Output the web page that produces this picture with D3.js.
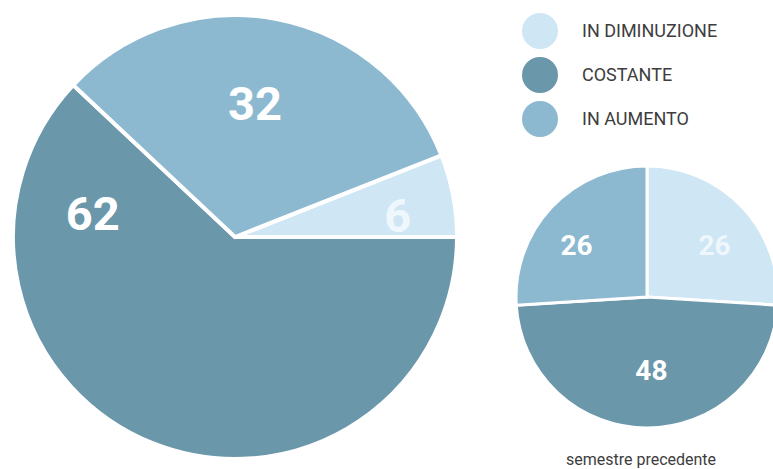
<!DOCTYPE html>
<html>
<head>
<meta charset="utf-8">
<script src="https://cdn.jsdelivr.net/npm/d3@7"></script>
<style>
  body { margin: 0; background: #fff; }
  svg { display: block; }
</style>
</head>
<body>
<div id="chart"></div>
<script>
(function() {
    'use strict';

    const width = 773,
        height = 469;

    // categories and values
    const categories = ['IN DIMINUZIONE', 'COSTANTE', 'IN AUMENTO'];
    const currentValues = [6, 62, 32];
    const previousValues = [26, 48, 26];
    const previousLabel = 'semestre precedente';

    const color = d3.scaleOrdinal()
        .domain(categories)
        .range(['#cfe6f4', '#6b97ab', '#8cb9d0']);

    const labelColor = d3.scaleOrdinal()
        .domain(categories)
        .range(['#eef7fc', '#ffffff', '#ffffff']);

    const svg = d3.select('#chart').append('svg')
        .attr('width', width)
        .attr('height', height);

    // where the number sits inside its slice: t = share of the slice's sweep, k = share of radius
    function drawPie(values, cx, cy, r, startAngle, strokeWidth, fontSize, place) {
        const rows = categories.map((c, i) => ({name: c, value: values[i]}));

        const pie = d3.pie()
            .sort(null)
            .value((d) => d.value)
            .startAngle(startAngle)
            .endAngle(startAngle + 2 * Math.PI);

        const arc = d3.arc()
            .innerRadius(0)
            .outerRadius(r);

        const g = svg.append('g')
            .attr('transform', 'translate(' + cx + ',' + cy + ')');

        const slices = pie(rows);

        g.selectAll('path')
            .data(slices)
            .enter().append('path')
            .attr('d', arc)
            .style('fill', (d) => color(d.data.name))
            .style('stroke', '#fff')
            .style('stroke-width', strokeWidth)
            .style('stroke-linejoin', 'miter');

        g.selectAll('text')
            .data(slices)
            .enter().append('text')
            .attr('transform', (d, i) => {
                const a = d.startAngle + (d.endAngle - d.startAngle) * place[i].t;
                const rr = r * place[i].k;
                return 'translate(' + (Math.sin(a) * rr) + ',' + (-Math.cos(a) * rr) + ')';
            })
            .attr('dy', '.36em')
            .style('text-anchor', 'middle')
            .style('font-family', 'Roboto, "DejaVu Sans", sans-serif')
            .style('font-weight', 'bold')
            .style('font-size', fontSize + 'px')
            .style('fill', (d) => labelColor(d.data.name))
            .text((d) => d.data.value);
    }

    // big pie: the first slice ends at 3 o'clock
    const bigStart = Math.PI / 2 - currentValues[0] / d3.sum(currentValues) * 2 * Math.PI;
    drawPie(currentValues, 235, 237, 222, bigStart, 4, 47,
        [{t: 0.64, k: 0.74}, {t: 0.85, k: 0.65}, {t: 0.48, k: 0.61}]);

    // small pie: starts at 12 o'clock
    drawPie(previousValues, 647, 297, 131, 0, 3, 28,
        [{t: 0.56, k: 0.65}, {t: 0.48, k: 0.56}, {t: 0.43, k: 0.67}]);

    // legend
    const legend = svg.append('g')
        .attr('transform', 'translate(540,31)');

    const item = legend.selectAll('.item')
        .data(categories)
        .enter().append('g')
        .attr('class', 'item')
        .attr('transform', (d, i) => 'translate(0,' + i * 44 + ')');

    item.append('circle')
        .attr('r', 18)
        .style('fill', (d) => color(d));

    item.append('text')
        .attr('x', 42)
        .attr('dy', '.36em')
        .style('font-family', 'Roboto, "DejaVu Sans", sans-serif')
        .style('font-size', '18px')
        .style('fill', '#3d3d3d')
        .text((d) => d);

    svg.append('text')
        .attr('x', 641)
        .attr('y', 465)
        .style('text-anchor', 'middle')
        .style('font-family', 'Roboto, "DejaVu Sans", sans-serif')
        .style('font-size', '16px')
        .style('fill', '#3d3d3d')
        .text(previousLabel);
})();
</script>
</body>
</html>
